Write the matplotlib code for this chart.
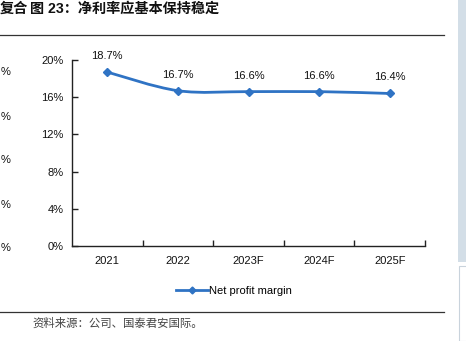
import matplotlib
matplotlib.use("Agg")
import matplotlib.pyplot as plt
from matplotlib.path import Path
from matplotlib.patches import PathPatch, Rectangle
from matplotlib.lines import Line2D
import numpy as np

plt.rcParams['font.family'] = ['Liberation Sans', 'Noto Sans CJK SC', 'DejaVu Sans']

categories = ["2021", "2022", "2023F", "2024F", "2025F"]
margin = [18.7, 16.7, 16.6, 16.6, 16.4]
labels = ["18.7%", "16.7%", "16.6%", "16.6%", "16.4%"]
yticks = [0, 4, 8, 12, 16, 20]
ytick_labels = ["0%", "4%", "8%", "12%", "16%", "20%"]
series_name = "Net profit margin"
title_prefix = "复合"
title = "图 23：净利率应基本保持稳定"
source = "资料来源：公司、国泰君安国际。"

W, H = 466, 341
fig = plt.figure(figsize=(W / 100, H / 100), dpi=100)
fig.patch.set_facecolor("white")

def px(x, y):
    return x / W, 1 - y / H

# main axes
ax_l, ax_r, ax_t, ax_b = 72, 425, 60, 246
ax = fig.add_axes([ax_l / W, 1 - ax_b / H, (ax_r - ax_l) / W, (ax_b - ax_t) / H])
ax.set_xlim(-0.5, 4.5)
ax.set_ylim(0, 20)
for s in ["top", "right"]:
    ax.spines[s].set_visible(False)
for s in ["left", "bottom"]:
    ax.spines[s].set_color("#222222")
    ax.spines[s].set_linewidth(1.0)

x = np.arange(len(categories))
ax.set_xticks(x)
ax.set_xticklabels(categories, fontsize=8, color="#111111")
ax.set_xticks(np.arange(len(categories)) + 0.5, minor=True)
ax.tick_params(axis="x", which="major", length=0, pad=7)
ax.tick_params(axis="x", which="minor", direction="in", length=4, width=1, color="#222222")
ax.set_yticks(yticks)
ax.set_yticklabels(ytick_labels, fontsize=8, color="#111111")
ax.tick_params(axis="y", direction="in", length=4, width=1, color="#222222", pad=6)

color = "#2f73c4"
# smooth curve through data (Bezier, Excel-like smoothing)
pts = np.column_stack([x, margin]).astype(float)
verts = [tuple(pts[0])]
codes = [Path.MOVETO]
n = len(pts)
for i in range(n - 1):
    p0 = pts[i - 1] if i > 0 else pts[i]
    p1 = pts[i]
    p2 = pts[i + 1]
    p3 = pts[i + 2] if i + 2 < n else pts[i + 1]
    c1 = p1 + (p2 - p0) / 6
    c2 = p2 - (p3 - p1) / 6
    verts += [tuple(c1), tuple(c2), tuple(p2)]
    codes += [Path.CURVE4] * 3
ax.add_patch(PathPatch(Path(verts, codes), facecolor="none", edgecolor=color, lw=2.0, zorder=3))
ax.plot(x, margin, linestyle="none", marker="D", markersize=4.5, color=color, zorder=4)

for xi, v, lab in zip(x, margin, labels):
    ax.annotate(lab, (xi, v), xytext=(0, 8), textcoords="offset points",
                ha="center", va="bottom", fontsize=8, color="#111111")

# legend
handle = Line2D([], [], color=color, lw=2.0, marker="D", markersize=3.5)
fig.legend([handle], [series_name], loc="center", bbox_to_anchor=px(234, 291),
           frameon=False, fontsize=8, handlelength=2.8, handletextpad=0.1)

# title and rules
fig.text(*px(0, 9), title_prefix, fontsize=10.2, fontweight="bold", ha="left", va="center", color="#111111")
fig.text(*px(30, 9), title, fontsize=10.2, fontweight="bold", ha="left", va="center", color="#111111")
fig.add_artist(Line2D([0, 444 / W], [1 - 35 / H] * 2, color="#333333", lw=0.9))
fig.add_artist(Line2D([0, 444 / W], [1 - 312 / H] * 2, color="#333333", lw=0.9))
fig.text(*px(32, 323), source, fontsize=8.2, ha="left", va="center", color="#444444",
         family=['Noto Sans CJK SC', 'DejaVu Sans'])

# fragments of the neighbouring chart on the left
for yy in [248, 205, 160, 117, 72]:
    fig.text(*px(1, yy), "%", fontsize=8, ha="left", va="center", color="#111111")

# right side strip
fig.add_artist(Rectangle(px(458, 262), 8 / W, 262 / H, transform=fig.transFigure,
                         facecolor="#d3dee7", edgecolor="none"))
fig.add_artist(Rectangle(px(459, 341), 10 / W, 75 / H, transform=fig.transFigure,
                         facecolor="white", edgecolor="#c9d3dc", lw=0.8))

fig.savefig("out.png", dpi=100)
